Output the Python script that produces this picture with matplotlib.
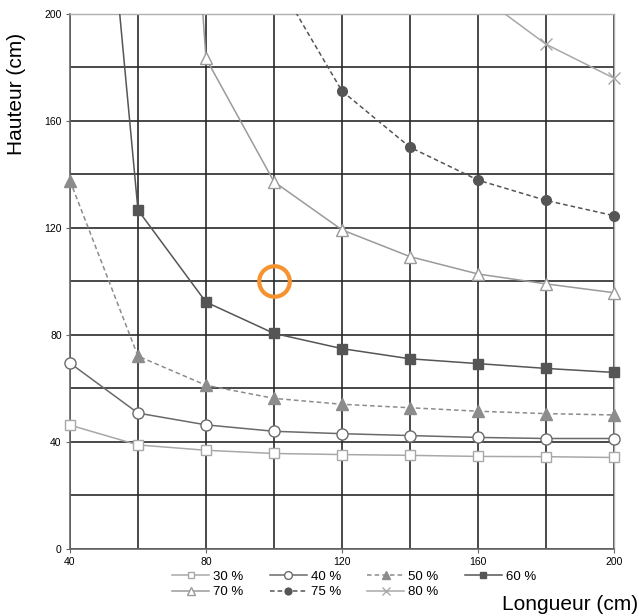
import numpy as np
import matplotlib
matplotlib.use("Agg")
import matplotlib.pyplot as plt

plt.rcParams['font.family'] = ['Liberation Sans', 'DejaVu Sans']

# longueurs (cm)
longueur = [40, 60, 80, 100, 120, 140, 160, 180, 200]
nan = np.nan

# hauteurs (cm) par pourcentage
h30 = [46.3, 38.9, 36.9, 35.7, 35.3, 35.0, 34.6, 34.5, 34.2]
h40 = [69.5, 50.8, 46.4, 44.0, 43.1, 42.4, 41.7, 41.3, 41.3]
h50 = [137.7, 72.1, 61.2, 56.3, 54.1, 52.8, 51.5, 50.6, 50.1]
h60 = [400.0, 126.7, 92.3, 80.6, 74.9, 71.1, 69.3, 67.5, 66.0]
h70 = [nan, 550.0, 183.4, 137.3, 119.3, 109.3, 102.8, 99.1, 95.8]
h75 = [nan, nan, 270.0, 214.5, 171.2, 150.2, 137.9, 130.3, 124.6]
h80 = [nan, nan, nan, nan, nan, nan, 207.5, 188.7, 176.0]

point_x, point_y = 100, 100

fig = plt.figure(figsize=(6.39, 6.16), dpi=100)
ax = fig.add_axes([0.1095, 0.1088, 0.8513, 0.8685])

styles = {
    '30 %': dict(y=h30, color='#a8a8a8', ls='-', marker='s', mfc='white', ms=7),
    '40 %': dict(y=h40, color='#6a6a6a', ls='-', marker='o', mfc='white', ms=8),
    '50 %': dict(y=h50, color='#8c8c8c', ls=(0, (3, 2)), marker='^', mfc='#8c8c8c', ms=9),
    '60 %': dict(y=h60, color='#555555', ls='-', marker='s', mfc='#555555', ms=7),
    '70 %': dict(y=h70, color='#9a9a9a', ls='-', marker='^', mfc='white', ms=9),
    '75 %': dict(y=h75, color='#555555', ls=(0, (3, 2)), marker='o', mfc='#555555', ms=7),
    '80 %': dict(y=h80, color='#a8a8a8', ls='-', marker='x', mfc='#a8a8a8', ms=8),
}

x = np.array(longueur, dtype=float)
handles = {}
for lab, s in styles.items():
    y = np.array(s['y'], dtype=float)
    # ligne (coupée au cadre)
    ax.plot(x, y, color=s['color'], linestyle=s['ls'], linewidth=1.1, zorder=3)
    # marqueurs visibles en entier, seulement ceux dans la plage
    m = y <= 200
    ax.plot(x[m], y[m], linestyle='none', marker=s['marker'], markersize=s['ms'],
            markerfacecolor=s['mfc'], markeredgecolor=s['color'], markeredgewidth=1.0,
            clip_on=False, zorder=4)
    h, = ax.plot([], [], color=s['color'], linestyle=s['ls'], linewidth=1.1,
                 marker=s['marker'], markersize=s['ms'], markerfacecolor=s['mfc'],
                 markeredgecolor=s['color'], markeredgewidth=1.0)
    handles[lab] = h

ax.plot([point_x], [point_y], marker='o', markersize=22, markerfacecolor='none',
        markeredgecolor='#f7932f', markeredgewidth=3.0, zorder=5)

ax.set_xlim(40, 200)
ax.set_ylim(0, 200)
ax.set_xticks([40, 80, 120, 160, 200])
ax.set_yticks([0, 40, 80, 120, 160, 200])
ax.set_xticks(np.arange(40, 201, 20), minor=True)
ax.set_yticks(np.arange(0, 201, 20), minor=True)
ax.tick_params(which='major', labelsize=7.5, length=3, width=0.8, color='#666666', pad=3)
ax.tick_params(which='minor', length=0)
ax.grid(True, which='both', color='#2a2a2a', linewidth=1.2, zorder=1)
ax.set_axisbelow(True)

for side in ['left', 'bottom']:
    ax.spines[side].set_color('#666666')
    ax.spines[side].set_linewidth(1.2)
for side in ['top', 'right']:
    ax.spines[side].set_color('#b0b0b0')
    ax.spines[side].set_linewidth(1.0)

ax.set_ylabel('Hauteur (cm)', fontsize=15)
ax.yaxis.set_label_coords(-0.08, 0.85)
fig.text(0.998, 0.004, 'Longueur (cm)', fontsize=15, ha='right', va='bottom')

order = ['30 %', '70 %', '40 %', '75 %', '50 %', '80 %', '60 %']
ax.legend([handles[k] for k in order], order, ncol=4, loc='center',
          bbox_to_anchor=(0.554, 0.051), bbox_transform=fig.transFigure,
          frameon=False, fontsize=9.5, markerscale=0.7, handlelength=2.8,
          handletextpad=0.3, columnspacing=2.0, labelspacing=0.25, borderpad=0)

fig.savefig('out.png', dpi=100)
